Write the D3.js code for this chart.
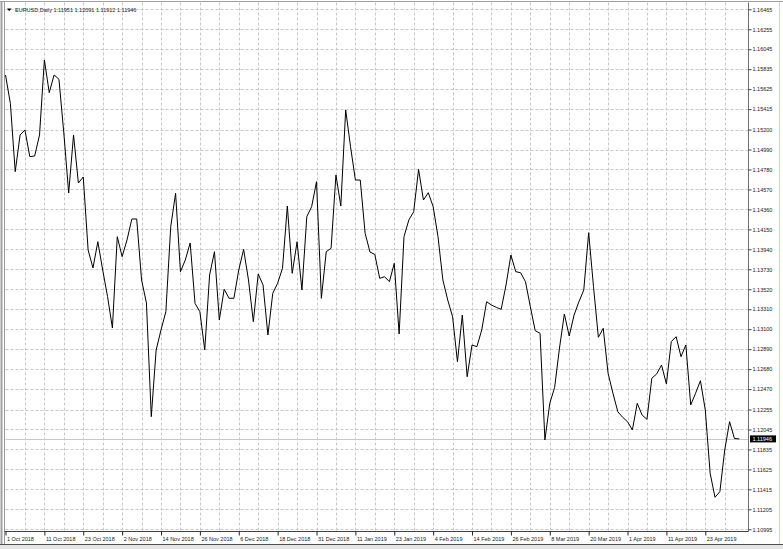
<!DOCTYPE html>
<html>
<head>
<meta charset="utf-8">
<script src="https://cdn.jsdelivr.net/npm/d3@7"></script>
<style>
  body { margin: 0; background: #fff; }
  svg { display: block; }
  text { font-family: "Liberation Sans", Arial, sans-serif; }
</style>
</head>
<body>
<div id="chart"></div>
<script>
// EURUSD daily closes, 1 Oct 2018 .. 2 May 2019
const closes = [
  1.15774, 1.15476, 1.14757, 1.15143, 1.15195, 1.14915, 1.14922, 1.15143,
  1.15932, 1.15588, 1.15774, 1.15729, 1.15164, 1.14533, 1.15143, 1.14638,
  1.14701, 1.13933, 1.13744, 1.14020, 1.13723, 1.13442, 1.13113, 1.14073,
  1.13863, 1.14038, 1.14259, 1.14259, 1.13618, 1.13376, 1.12180, 1.12881,
  1.13092, 1.13284, 1.14178, 1.14530, 1.13705, 1.13828, 1.14007, 1.13372,
  1.13284, 1.12881, 1.13670, 1.13915, 1.13197, 1.13520, 1.13425, 1.13425,
  1.13723, 1.13940, 1.13618, 1.13179, 1.13681, 1.13565, 1.13039, 1.13478,
  1.13583, 1.13741, 1.14396, 1.13688, 1.14020, 1.13512, 1.14283, 1.14389,
  1.14652, 1.13425, 1.13915, 1.13951, 1.14722, 1.14396, 1.15406, 1.15020,
  1.14669, 1.14669, 1.14109, 1.13912, 1.13886, 1.13635, 1.13652, 1.13600,
  1.13793, 1.13050, 1.14073, 1.14249, 1.14336, 1.14782, 1.14459, 1.14536,
  1.14389, 1.14073, 1.13618, 1.13407, 1.13231, 1.12758, 1.13249, 1.12600,
  1.12934, 1.12916, 1.13092, 1.13389, 1.13354, 1.13330, 1.13309, 1.13565,
  1.13880, 1.13705, 1.13694, 1.13600, 1.13337, 1.13084, 1.13057, 1.11935,
  1.12320, 1.12487, 1.12902, 1.13260, 1.13028, 1.13249, 1.13389, 1.13512,
  1.14115, 1.13547, 1.13015, 1.13109, 1.12636, 1.12426, 1.12232, 1.12173,
  1.12127, 1.12040, 1.12320, 1.12197, 1.12152, 1.12584, 1.12629, 1.12723,
  1.12524, 1.12969, 1.13021, 1.12811, 1.12934, 1.12303, 1.12426, 1.12558,
  1.12250, 1.11584, 1.11332, 1.11391, 1.11829, 1.12127, 1.11950, 1.11946
]

const dateLabels = ['1 Oct 2018', '11 Oct 2018', '23 Oct 2018', '2 Nov 2018', '14 Nov 2018',
  '26 Nov 2018', '6 Dec 2018', '18 Dec 2018', '31 Dec 2018', '11 Jan 2019', '23 Jan 2019',
  '4 Feb 2019', '14 Feb 2019', '26 Feb 2019', '8 Mar 2019', '20 Mar 2019', '1 Apr 2019',
  '11 Apr 2019', '23 Apr 2019']
const dateBars = [0, 8, 16, 24, 32, 40, 48, 56, 64, 72, 80, 88, 96, 104, 112, 120, 128, 136, 144]

const priceTicks = ['1.16465', '1.16255', '1.16045', '1.15835', '1.15625', '1.15415', '1.15200',
  '1.14990', '1.14780', '1.14570', '1.14360', '1.14150', '1.13940', '1.13730', '1.13520',
  '1.13310', '1.13100', '1.12890', '1.12680', '1.12470', '1.12255', '1.12045', '1.11835',
  '1.11625', '1.11415', '1.11205', '1.10995']

const header = ['EURUSD,Daily', '1.11951', '1.12091', '1.11912', '1.11946']
const lastPrice = 1.11946

let dimensions = {
  width: 783, height: 549,
  left: 5.5, right: 748.5, top: 2.5, bottom: 531.5
}

const svg = d3.select('#chart').append('svg')
  .attr('width', dimensions.width)
  .attr('height', dimensions.height)

const xScale = d3.scaleLinear().domain([0, closes.length - 1]).range([dimensions.left, 739.3])
const yScale = d3.scaleLinear().domain([1.10995, 1.16465]).range([529.3, 9.3])

// window frame
svg.append('line').attr('x1', 0).attr('x2', 783).attr('y1', 1.5).attr('y2', 1.5).attr('stroke', '#a0a0a0')
svg.append('line').attr('x1', 1.5).attr('x2', 1.5).attr('y1', 1).attr('y2', 545).attr('stroke', '#a0a0a0').attr('stroke-width', 2)
svg.append('line').attr('x1', 4.5).attr('x2', 4.5).attr('y1', 2).attr('y2', 544).attr('stroke', '#9a9a9a')
svg.append('line').attr('x1', 0).attr('x2', 783).attr('y1', 544.5).attr('y2', 544.5).attr('stroke', '#505050')
svg.append('rect').attr('x', 0).attr('y', 545).attr('width', 783).attr('height', 4).attr('fill', '#e4e4e4')
svg.append('line').attr('x1', 779.5).attr('x2', 779.5).attr('y1', 2).attr('y2', 544).attr('stroke', '#c4d8ee')

// grid
const grid = svg.append('g').attr('stroke', '#c8c8c8').attr('stroke-dasharray', '3,2')
grid.selectAll('.hgrid').data(priceTicks).enter().append('line')
  .attr('x1', dimensions.left).attr('x2', dimensions.right)
  .attr('y1', d => Math.round(yScale(+d)) + 0.5)
  .attr('y2', d => Math.round(yScale(+d)) + 0.5)
grid.selectAll('.vgrid').data(d3.range(4, closes.length, 4)).enter().append('line')
  .attr('x1', d => Math.round(xScale(d)) + 0.5)
  .attr('x2', d => Math.round(xScale(d)) + 0.5)
  .attr('y1', dimensions.top).attr('y2', dimensions.bottom)

// bid line
svg.append('line')
  .attr('x1', dimensions.left).attr('x2', dimensions.right)
  .attr('y1', Math.round(yScale(lastPrice)) + 0.5).attr('y2', Math.round(yScale(lastPrice)) + 0.5)
  .attr('stroke', '#c8c8c8')

// price line
const line = d3.line()
  .x((d, i) => xScale(i))
  .y(d => yScale(d))
svg.append('path')
  .attr('d', line(closes))
  .attr('fill', 'none')
  .attr('stroke', '#000')
  .attr('stroke-width', 1)

// right price axis
const yAxis = svg.append('g')
  .attr('transform', `translate(${dimensions.right},0)`)
  .call(d3.axisRight(yScale).tickValues(priceTicks.map(Number)).tickSize(3).tickPadding(1)
    .tickFormat((d, i) => priceTicks[i]))
yAxis.select('.domain').attr('d', `M0,${dimensions.top}V${dimensions.bottom}`).attr('stroke', '#707070')
yAxis.selectAll('.tick line').attr('stroke', '#404040')
yAxis.selectAll('.tick text').attr('font-size', '5.5px').attr('fill', '#202020')
  .attr('font-family', '"Liberation Sans", Arial, sans-serif')

// bottom date axis
const xAxis = svg.append('g')
  .attr('transform', `translate(0,${dimensions.bottom})`)
  .call(d3.axisBottom(xScale).tickValues(dateBars).tickSize(4).tickPadding(2)
    .tickFormat((d, i) => dateLabels[i]))
xAxis.select('.domain').attr('d', `M${dimensions.left - 1},0H${dimensions.right}`).attr('stroke', '#404040')
xAxis.selectAll('.tick line').attr('stroke', '#202020')
xAxis.selectAll('.tick text').attr('font-size', '5.5px').attr('fill', '#202020')
  .attr('text-anchor', 'start').attr('x', 1)
  .attr('font-family', '"Liberation Sans", Arial, sans-serif')

// last price tag
const tagY = yScale(lastPrice)
svg.append('rect').attr('x', 750).attr('y', tagY - 3.5).attr('width', 26).attr('height', 7).attr('fill', '#000')
svg.append('text').attr('x', 752.5).attr('y', tagY).attr('dy', '0.34em')
  .attr('font-size', '5.5px').attr('fill', '#fff').text(d3.format('.5f')(lastPrice))

// header
svg.append('path').attr('d', 'M7,8.5h4.5l-2.25,2.8z').attr('fill', '#000')
svg.append('text').attr('x', 15).attr('y', 10).attr('dy', '0.34em')
  .attr('font-size', '5.5px').attr('fill', '#202020')
  .text(header.join(' '))
</script>
</body>
</html>
